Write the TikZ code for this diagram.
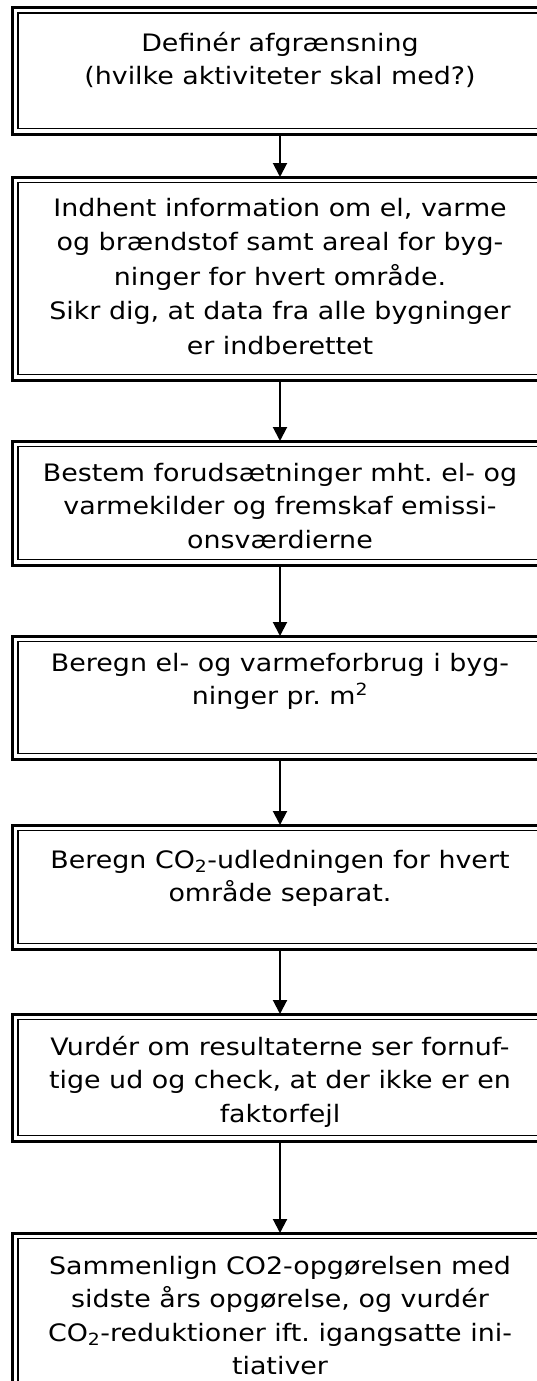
\documentclass[tikz,border=0pt]{standalone}
\usepackage{fontspec}
\setmainfont[FakeStretch=1.12]{DejaVu Sans}
\frenchspacing
\usetikzlibrary{arrows.meta}
\tikzset{
  obox/.style={draw, line width=3pt, rectangle, inner sep=0pt, outer sep=0pt, minimum width=535pt},
  innerline/.style={line width=1.5pt},
  txt/.style={anchor=north, align=center, inner sep=0pt, font=\fontsize{24}{33.5}\selectfont},
  flow/.style={line width=2pt, -{Triangle[width=14pt,length=14pt]}}
}
\newcommand{\fl}{\rule{0pt}{18pt}}
\begin{document}
\begin{tikzpicture}[x=1pt,y=-1pt]
\useasboundingbox (0,0) rectangle (537,1381);
% boxes: centre y = (top+bottom)/2, height = bottom-top
\node[obox, minimum height=126.5pt] (b1) at (280,70.75) {};
\node[obox, minimum height=203pt]   (b2) at (280,278.5) {};
\node[obox, minimum height=124pt]   (b3) at (280,503) {};
\node[obox, minimum height=123pt]   (b4) at (280,697.5) {};
\node[obox, minimum height=124pt]   (b5) at (280,887) {};
\node[obox, minimum height=127pt]   (b6) at (280,1077.5) {};
\node[obox, minimum height=157pt]   (b7) at (280,1311.5) {};
\foreach \b in {b1,b2,b3,b4,b5,b6,b7}
  \draw[innerline] ([shift={(5.5pt,-5.5pt)}]\b.north west) rectangle ([shift={(-5.5pt,5.5pt)}]\b.south east);
% texts (first baseline = y + 18)
\node[txt] (t1) at (280,32) {\fl Definér afgrænsning\\(hvilke aktiviteter skal med?)};
\node[txt, font=\fontsize{24}{34.5}\selectfont] (t2) at (280,198) {\fl Indhent information om el, varme\\og brændstof samt areal for byg-\\ninger for hvert område.\\Sikr dig, at data fra alle bygninger\\er indberettet};
\node[txt] (t3) at (280,463) {\fl Bestem forudsætninger mht. el- og\\varmekilder og fremskaf emissi-\\onsværdierne};
\node[txt] (t4) at (280,653) {\fl Beregn el- og varmeforbrug i byg-\\ninger pr. m\textsuperscript{2}};
\node[txt] (t5) at (280,850) {\fl Beregn CO\textsubscript{2}-udledningen for hvert\\område separat.};
\node[txt] (t6) at (280,1036) {\fl Vurdér om resultaterne ser fornuf-\\tige ud og check, at der ikke er en\\faktorfejl};
\node[txt] (t7) at (280,1256) {\fl Sammenlign CO2-opgørelsen med\\sidste års opgørelse, og vurdér\\CO\textsubscript{2}-reduktioner ift. igangsatte ini-\\tiativer};
% connectors
\draw[flow] (b1.south) -- (b2.north);
\draw[flow] (b2.south) -- (b3.north);
\draw[flow] (b3.south) -- (b4.north);
\draw[flow] (b4.south) -- (b5.north);
\draw[flow] (b5.south) -- (b6.north);
\draw[flow] (b6.south) -- (b7.north);
\end{tikzpicture}
\end{document}
